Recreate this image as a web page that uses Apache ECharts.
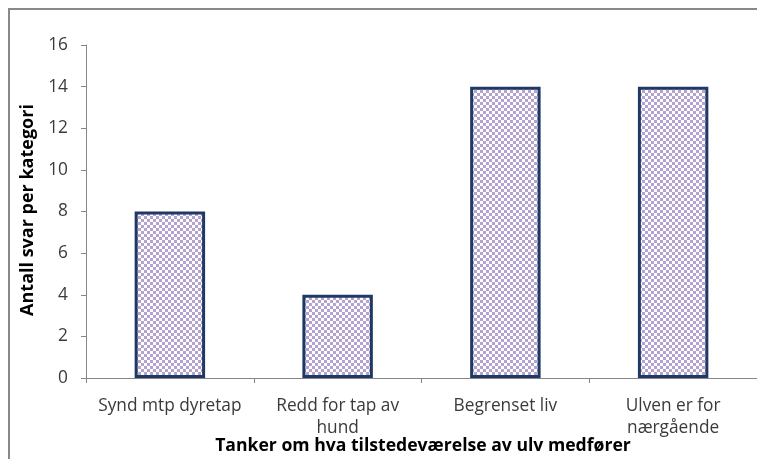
<!DOCTYPE html>
<html><head><meta charset="utf-8">
<script src="https://cdn.jsdelivr.net/npm/echarts@6/dist/echarts.min.js"></script>
<style>html,body{margin:0;padding:0;background:#fff}#c{width:757px;height:459px}</style>
</head><body><div id="c"></div>
<script>
const categories = ['Synd mtp dyretap', 'Redd for tap av\nhund', 'Begrenset liv', 'Ulven er for\nnærgående'];
const values = [8, 4, 14, 14];
const yTicks = [0, 2, 4, 6, 8, 10, 12, 14, 16];
const xTitle = 'Tanker om hva tilstedeværelse av ulv medfører';
const yTitle = 'Antall svar per kategori';

const pc = document.createElement('canvas');
pc.width = 6; pc.height = 6;
const g = pc.getContext('2d');
g.fillStyle = '#ffffff'; g.fillRect(0, 0, 6, 6);
g.fillStyle = '#b4a2d0';
g.fillRect(0, 0, 3, 3); g.fillRect(3, 3, 3, 3);

const chart = echarts.init(document.getElementById('c'), null, {renderer: 'canvas'});
const font = '"Open Sans", "Liberation Sans", sans-serif';
chart.setOption({
  animation: false,
  graphic: [
    {type: 'rect', shape: {x: 9, y: 9, width: 800, height: 500}, style: {fill: 'none', stroke: '#898989', lineWidth: 2}, z: -1},
    {type: 'text', x: 423, y: 446, style: {text: xTitle, font: 'bold 17.6px ' + font, fill: '#000', align: 'center', verticalAlign: 'middle'}},
    {type: 'text', x: 28, y: 210, rotation: Math.PI / 2, style: {text: yTitle, font: 'bold 18px ' + font, fill: '#000', align: 'center', verticalAlign: 'middle'}}
  ],
  grid: {left: 86, width: 676, top: 45, height: 333, containLabel: false},
  xAxis: {
    type: 'category', data: categories,
    axisLine: {lineStyle: {color: '#868686', width: 1}},
    axisTick: {show: true, length: 5, lineStyle: {color: '#868686'}},
    axisLabel: {interval: 0, color: '#3a3a3a', fontSize: 17.3, fontFamily: font, margin: 17, lineHeight: 22}
  },
  yAxis: {
    type: 'value', min: 0, max: 16, interval: 2,
    axisLine: {show: true, lineStyle: {color: '#868686', width: 1}},
    axisTick: {show: true, length: 5, lineStyle: {color: '#868686'}},
    splitLine: {show: false},
    axisLabel: {color: '#3a3a3a', fontSize: 17.3, fontFamily: font, margin: 18,
      formatter: v => yTicks.includes(v) ? String(v) : ''}
  },
  series: [{
    type: 'bar', data: values, barWidth: '42%',
    itemStyle: {color: {image: pc, repeat: 'repeat'}, borderColor: '#1f3864', borderWidth: 3}
  }]
});
</script></body></html>
